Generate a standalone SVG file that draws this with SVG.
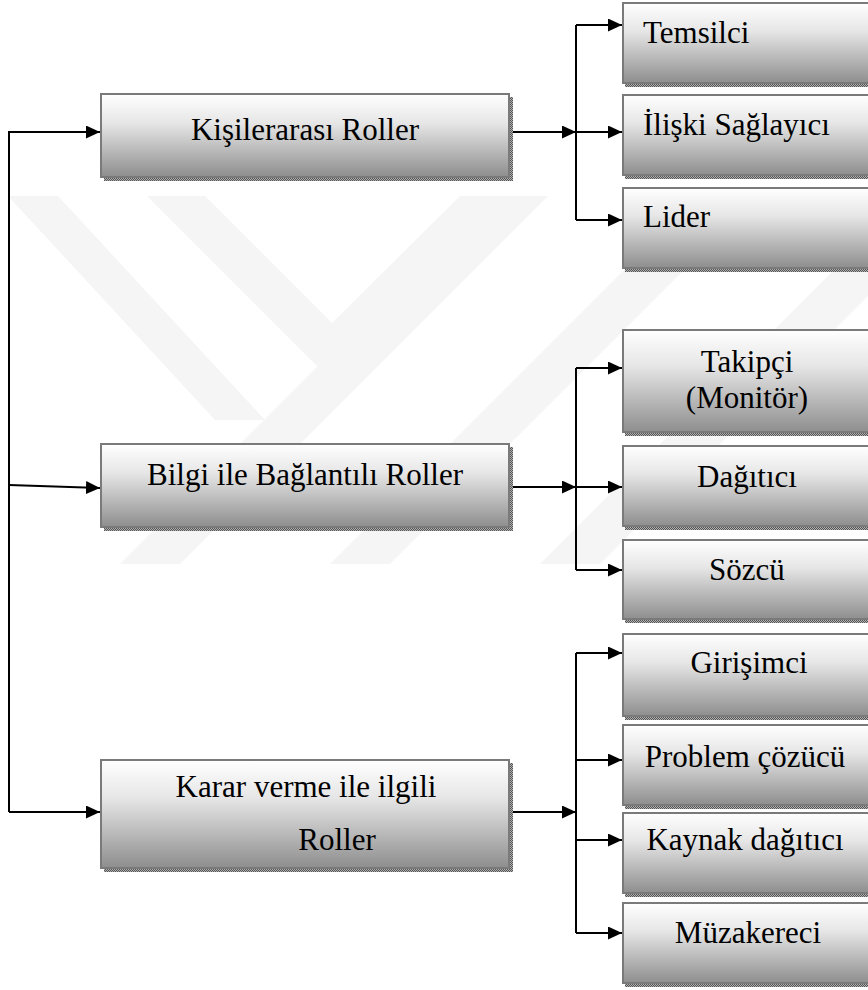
<svg xmlns="http://www.w3.org/2000/svg" width="868" height="990" viewBox="0 0 868 990">
<defs>
<linearGradient id="g" x1="0" y1="0" x2="0" y2="1">
<stop offset="0" stop-color="#ffffff"/>
<stop offset="0.35" stop-color="#e6e6e6"/>
<stop offset="1" stop-color="#8e8e8e"/>
</linearGradient>
<pattern id="sh" width="2" height="2" patternUnits="userSpaceOnUse">
<rect width="2" height="2" fill="#b0b0b0"/>
<rect width="1" height="1" fill="#555"/>
<rect x="1" y="1" width="1" height="1" fill="#555"/>
</pattern>
<marker id="ah" markerUnits="userSpaceOnUse" markerWidth="14" markerHeight="13" refX="14" refY="6.5" orient="auto">
<path d="M0,0 L14,6.5 L0,13 z" fill="#000"/>
</marker>
<style>
.box{fill:url(#g);stroke:#7a7a7a;stroke-width:2}
.shd{fill:url(#sh)}
.t{font-size:31px;fill:#000}
.c{stroke:#000;stroke-width:2;fill:none}
.a{marker-end:url(#ah)}
.wm{fill:#f5f5f5}
</style>
</defs>
<rect width="868" height="990" fill="#fff"/>
<g id="watermark">
<polygon class="wm" points="8,196 58,196 265,420 215,420"/>
<polygon class="wm" points="147,196 205,196 332,323 460,196 517,196 332,381"/>
<polygon class="wm" points="120,564 180,564 548,196 488,196"/>
<polygon class="wm" points="330,564 390,564 758,196 698,196"/>
<polygon class="wm" points="540,564 600,564 868,296 868,236"/>
</g>
<g id="connectors">
<path class="c" d="M9,131 V812"/>
<path class="c a" d="M9,132 H100"/>
<path class="c a" d="M9,485 L100,488"/>
<path class="c a" d="M9,812 H100"/>
<path class="c a" d="M510,132 H576"/>
<path class="c" d="M576,25 V220"/>
<path class="c a" d="M576,25 H622"/>
<path class="c a" d="M576,132 H622"/>
<path class="c a" d="M576,220 H622"/>
<path class="c a" d="M510,487 H576"/>
<path class="c" d="M576,368 V570"/>
<path class="c a" d="M576,368 H622"/>
<path class="c a" d="M576,487 H622"/>
<path class="c a" d="M576,570 H622"/>
<path class="c a" d="M510,812 H576"/>
<path class="c" d="M576,653 V933"/>
<path class="c a" d="M576,653 H622"/>
<path class="c a" d="M576,760 H622"/>
<path class="c a" d="M576,840 H622"/>
<path class="c a" d="M576,933 H622"/>
</g>
<g font-family="'Liberation Serif', 'Times New Roman', 'DejaVu Serif', serif">
<g id="n-kisilerarasi">
<rect class="shd" x="104" y="97" width="409" height="84"/>
<rect class="box" x="101" y="94" width="408" height="83"/>
<text class="t" x="305" y="140" text-anchor="middle">Kişilerarası Roller</text>
</g>
<g id="n-bilgi">
<rect class="shd" x="104" y="447" width="409" height="84"/>
<rect class="box" x="101" y="444" width="408" height="83"/>
<text class="t" x="305" y="485" text-anchor="middle">Bilgi ile Bağlantılı Roller</text>
</g>
<g id="n-karar">
<rect class="shd" x="104" y="763" width="409" height="109"/>
<rect class="box" x="101" y="760" width="408" height="108"/>
<text class="t" x="306" y="797" text-anchor="middle">Karar verme ile ilgili</text>
<text class="t" x="337" y="850" text-anchor="middle">Roller</text>
</g>
<g id="n-temsilci">
<rect class="shd" x="625" y="6" width="260" height="81"/>
<rect class="box" x="623" y="3" width="260" height="80"/>
<text class="t" x="643" y="43">Temsilci</text>
</g>
<g id="n-iliski">
<rect class="shd" x="625" y="98" width="260" height="81"/>
<rect class="box" x="623" y="95" width="260" height="80"/>
<text class="t" x="643" y="135">İlişki Sağlayıcı</text>
</g>
<g id="n-lider">
<rect class="shd" x="625" y="191" width="260" height="81"/>
<rect class="box" x="623" y="188" width="260" height="80"/>
<text class="t" x="643" y="227">Lider</text>
</g>
<g id="n-takipci">
<rect class="shd" x="625" y="333" width="260" height="103"/>
<rect class="box" x="623" y="330" width="260" height="102"/>
<text class="t" x="747" y="372" text-anchor="middle">Takipçi</text>
<text class="t" x="747" y="408" text-anchor="middle">(Monitör)</text>
</g>
<g id="n-dagitici">
<rect class="shd" x="625" y="449" width="260" height="81"/>
<rect class="box" x="623" y="446" width="260" height="80"/>
<text class="t" x="747" y="487" text-anchor="middle">Dağıtıcı</text>
</g>
<g id="n-sozcu">
<rect class="shd" x="625" y="543" width="260" height="80"/>
<rect class="box" x="623" y="540" width="260" height="79"/>
<text class="t" x="747" y="580" text-anchor="middle">Sözcü</text>
</g>
<g id="n-girisimci">
<rect class="shd" x="625" y="637" width="260" height="83"/>
<rect class="box" x="623" y="634" width="260" height="82"/>
<text class="t" x="749" y="673" text-anchor="middle">Girişimci</text>
</g>
<g id="n-problem">
<rect class="shd" x="625" y="728" width="260" height="81"/>
<rect class="box" x="623" y="725" width="260" height="80"/>
<text class="t" x="745" y="767" text-anchor="middle">Problem çözücü</text>
</g>
<g id="n-kaynak">
<rect class="shd" x="625" y="816" width="260" height="81"/>
<rect class="box" x="623" y="813" width="260" height="80"/>
<text class="t" x="745" y="850" text-anchor="middle">Kaynak dağıtıcı</text>
</g>
<g id="n-muzakereci">
<rect class="shd" x="625" y="906" width="260" height="81"/>
<rect class="box" x="623" y="903" width="260" height="80"/>
<text class="t" x="748" y="943" text-anchor="middle">Müzakereci</text>
</g>
</g>
</svg>
